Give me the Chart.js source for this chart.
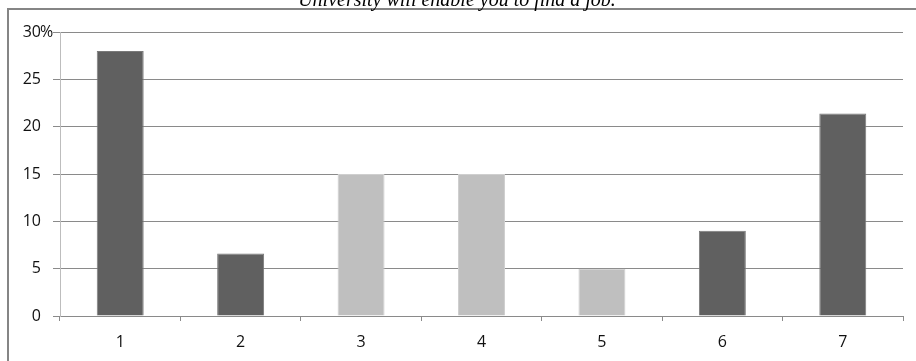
<!DOCTYPE html>
<html>
<head>
<meta charset="utf-8">
<script src="https://cdn.jsdelivr.net/npm/chart.js@4/dist/chart.umd.min.js"></script>
<style>
  html, body { margin: 0; padding: 0; background: #fff; }
  #wrap { position: relative; width: 916px; height: 361px; overflow: hidden; }
  #frame { position: absolute; left: 7px; top: 8px; width: 960px; height: 400px;
           border: 2px solid #858585; box-sizing: border-box; }
  canvas { position: absolute; left: 0; top: 0; }
</style>
</head>
<body>
<div id="wrap">
  <div id="frame"></div>
  <canvas id="grafico" width="916" height="361"></canvas>
</div>
<script>
// dados
const chartTitle = "University will enable you to find a job.";
const categorias = ["1", "2", "3", "4", "5", "6", "7"];
const valores = [28.0, 6.6, 15.0, 15.0, 5.0, 9.0, 21.4];
const yTicks = [0, 5, 10, 15, 20, 25, 30];

const escuro = "#606060";
const claro = "#bfbfbf";
const coresBarras = [escuro, escuro, claro, claro, claro, escuro, escuro];

const fonteEixo = { family: "'Open Sans'", size: 16 };

// título cortado no topo e "%" ao lado do 30
const extras = {
    id: "extras",
    afterDraw(chart) {
        const ctx = chart.ctx;
        ctx.save();
        ctx.fillStyle = "#000";
        ctx.font = "italic 20px 'Liberation Serif'";
        ctx.textAlign = "center";
        ctx.textBaseline = "alphabetic";
        ctx.fillText(chartTitle, 457, 6);

        const y = chart.scales.y;
        const py = y.getPixelForValue(30);
        ctx.font = "16px 'Open Sans'";
        ctx.fillStyle = "#111";
        ctx.textAlign = "left";
        ctx.textBaseline = "middle";
        ctx.fillText("%", 40, py);
        ctx.restore();
    }
};

const ctx = document.getElementById("grafico").getContext("2d");
new Chart(ctx, {
    type: "bar",
    data: {
        labels: categorias,
        datasets: [{
            data: valores,
            backgroundColor: coresBarras,
            borderColor: coresBarras.map(c => c === escuro ? "#7a7a7a" : "#cfcfcf"),
            borderWidth: 1,
            categoryPercentage: 1,
            barPercentage: 0.39
        }]
    },
    options: {
        responsive: false,
        animation: false,
        layout: { padding: { left: 0, right: 13, top: 32, bottom: 0 } },
        plugins: {
            legend: { display: false },
            tooltip: { enabled: false },
            title: { display: false }
        },
        scales: {
            x: {
                afterFit: s => { s.height = 45; },
                grid: {
                    offset: true,
                    drawOnChartArea: false,
                    color: "#8a8a8a",
                    tickLength: 5
                },
                border: { color: "#8a8a8a" },
                ticks: { color: "#111", font: fonteEixo, padding: 12 }
            },
            y: {
                min: 0,
                max: 30,
                afterFit: s => { s.width = 60; },
                afterBuildTicks: s => { s.ticks = yTicks.map(v => ({ value: v })); },
                grid: { color: "#8a8a8a", tickLength: 7 },
                border: { color: "#bdbdbd" },
                ticks: { color: "#111", font: fonteEixo, padding: 12 }
            }
        }
    },
    plugins: [extras]
});
</script>
</body>
</html>
